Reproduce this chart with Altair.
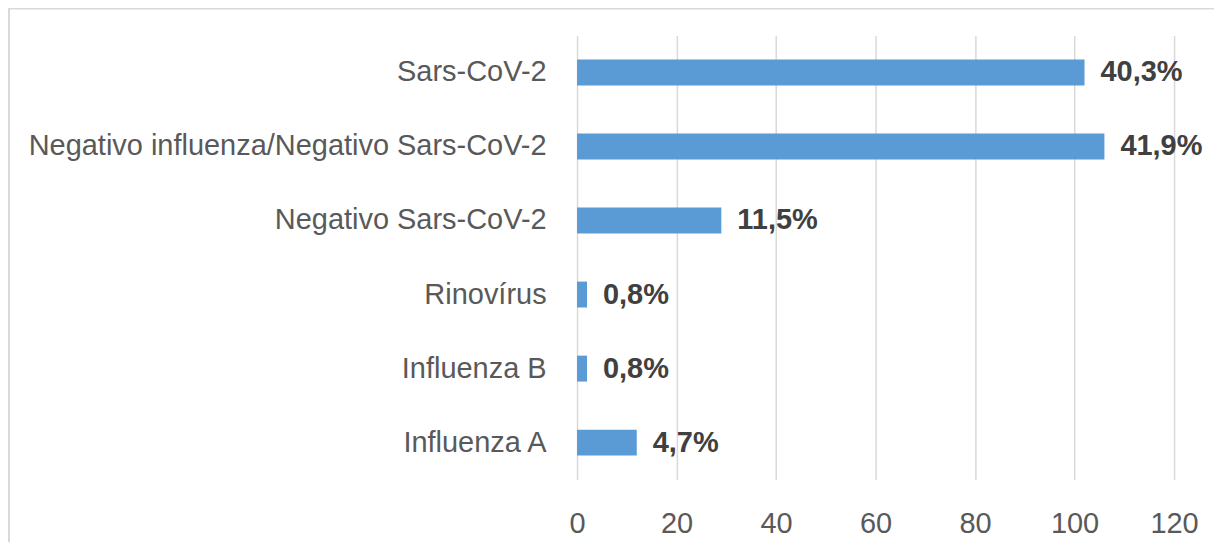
import altair as alt
import pandas as pd

categories = ["Sars-CoV-2", "Negativo influenza/Negativo Sars-CoV-2", "Negativo Sars-CoV-2",
              "Rinovírus", "Influenza B", "Influenza A"]
counts = [102, 106, 29, 2, 2, 12]
labels = ["40,3%", "41,9%", "11,5%", "0,8%", "0,8%", "4,7%"]

df = pd.DataFrame({"cat": categories, "n": counts, "lab": labels})

FONT = "Liberation Sans Narrow, Liberation Sans"

y = alt.Y("cat:N", sort=categories, title=None,
          scale=alt.Scale(paddingInner=0.65, paddingOuter=0.325),
          axis=alt.Axis(domain=False, ticks=False, grid=False, labelPadding=31,
                        labelFont=FONT, labelFontSize=29, labelColor="#595959",
                        labelLimit=600))
x = alt.X("n:Q", title=None,
          scale=alt.Scale(domain=[0, 120], nice=False),
          axis=alt.Axis(values=[0, 20, 40, 60, 80, 100, 120], domain=False, ticks=False,
                        labelFlush=False, labelPadding=30, labelFont=FONT, labelFontSize=29,
                        labelColor="#595959", gridColor="#d9d9d9", gridWidth=1.5))

bars = alt.Chart(df).mark_bar(color="#5b9bd5").encode(x=x, y=y)
text = alt.Chart(df).mark_text(align="left", baseline="middle", dx=16, font=FONT,
                               fontSize=29, fontWeight="bold", color="#404040").encode(
    x="n:Q", y=alt.Y("cat:N", sort=categories), text="lab:N")

frame = alt.Chart(df.head(1)).mark_rect(fill=None, stroke="#d9d9d9", strokeWidth=2).encode(
    x=alt.value(-569), x2=alt.value(700), y=alt.value(-27), y2=alt.value(600))

chart = alt.layer(frame, bars, text).properties(
    width=598, height=445,
    autosize=alt.AutoSizeParams(type="none"),
    padding={"left": 570, "top": 27, "right": 40, "bottom": 62},
).configure_view(stroke=None)

chart.save("out.html", embed_options={"renderer": "svg", "actions": False})
